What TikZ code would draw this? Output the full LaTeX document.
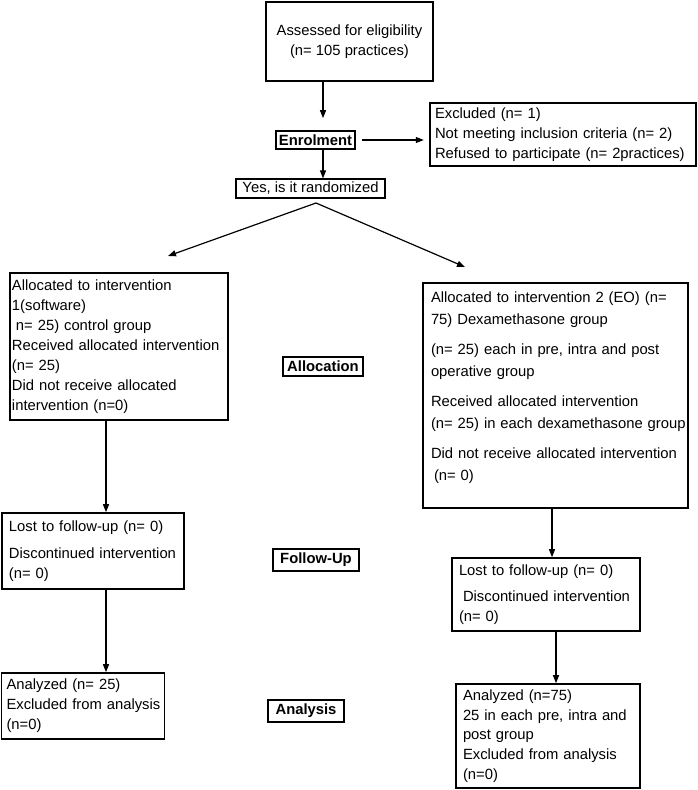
\documentclass[tikz,border=0pt]{standalone}
\usepackage{fontspec}
\setmainfont{Liberation Sans}
\usetikzlibrary{arrows.meta}
\begin{document}
\begin{tikzpicture}[x=1pt,y=-1pt,
  txt/.style={font=\fontsize{14.8}{20}\selectfont},
  box/.style={draw, line width=1.6pt, inner ysep=0pt, align=left, txt},
  lbl/.style={draw, line width=1.6pt, inner sep=0pt, font=\bfseries\fontsize{14.8}{17}\selectfont},
  arr/.style={line width=1.2pt, -{Triangle[length=8pt,width=6pt]}},
]
\useasboundingbox (0,0) rectangle (698,790);

\node[box, align=center, inner xsep=0, minimum width=167, minimum height=79] (assess) at (349.5,41.5) {Assessed for eligibility\\(n= 105 practices)};
\node[lbl, minimum width=79, minimum height=18] (enrol) at (315.5,140) {Enrolment};
\node[box, line width=2.4pt, text width=256, inner xsep=5, minimum width=266, minimum height=63] (excl) at (563,134.5) {Excluded (n= 1)\\Not meeting inclusion criteria (n= 2)\\\mbox{Refused to participate (n= 2practices)}};
\node[box, align=center, line width=1.3pt, inner xsep=0, minimum width=149, minimum height=19] (rand) at (310.5,188.5) {Yes, is it randomized};

\coordinate (split) at (316,203);
\coordinate (tipL) at (168,256);
\coordinate (tipR) at (465,267);

\node[box, text width=214, inner xsep=2, minimum width=218, minimum height=147] (alloc1) at (119,346.5) {Allocated to intervention\\1(software)\\\hspace*{4pt}n= 25) control group\\\mbox{Received allocated intervention}\\(n= 25)\\Did not receive allocated\\intervention (n=0)};
\node[lbl, minimum width=80, minimum height=19] (allocLbl) at (323,366.5) {Allocation};
\node[box, text width=249, inner xsep=8, minimum width=265, minimum height=225, font=\fontsize{14.8}{22}\selectfont] (alloc2) at (555.5,395.5) {\mbox{Allocated to intervention 2 (EO) (n=}\\75) Dexamethasone group\\[8pt]\mbox{(n= 25) each in pre, intra and post}\\operative group\\[8pt]Received allocated intervention\\\mbox{(n= 25) in each dexamethasone group}\\[8pt]\mbox{Did not receive allocated intervention}\\\hspace*{3pt}(n= 0)\\[-4pt]\mbox{}};

\node[box, text width=168, inner xsep=7, minimum width=182, minimum height=76] (lostL) at (93,551) {Lost to follow-up (n= 0)\\[7pt]Discontinued intervention\\(n= 0)};
\node[lbl, minimum width=86, minimum height=22] (fuLbl) at (316,560) {Follow-Up};
\node[box, text width=174, inner xsep=7, minimum width=188, minimum height=73] (lostR) at (546,594.5) {Lost to follow-up (n= 0)\\[6pt]\hspace*{4pt}Discontinued intervention\\(n= 0)};

\node[box, text width=153, inner xsep=5, minimum width=163, minimum height=66] (anaL) at (83,706) {Analyzed (n= 25)\\\mbox{Excluded from analysis}\\(n=0)};
\node[lbl, minimum width=76, minimum height=22] (anaLbl) at (306,711) {Analysis};
\node[box, text width=170, inner xsep=7, minimum width=184, minimum height=104, font=\fontsize{14.8}{19.7}\selectfont] (anaR) at (548,736) {Analyzed (n=75)\\\mbox{25 in each pre, intra and}\\post group\\\mbox{Excluded from analysis}\\(n=0)};

\draw[arr] ([xshift=-26.5pt]assess.south) -- ([xshift=-26.5pt,yshift=12pt]assess.south |- enrol.north);
\draw[arr, shorten <=6pt, shorten >=5pt] (enrol.east) -- (enrol.east -| excl.west);
\draw[arr] (enrol.south -| 323,0) -- (rand.north -| 323,0);
\draw[arr] (split) -- (tipL);
\draw[arr] (split) -- (tipR);
\draw[arr] ([xshift=-13pt]alloc1.south) -- ([xshift=-13pt]alloc1.south |- lostL.north);
\draw[arr] ([xshift=13pt]lostL.south) -- ([xshift=13pt]lostL.south |- anaL.north);
\draw[arr] ([xshift=-3.5pt]alloc2.south) -- ([xshift=-3.5pt]alloc2.south |- lostR.north);
\draw[arr] ([xshift=10pt]lostR.south) -- ([xshift=10pt]lostR.south |- anaR.north);
\end{tikzpicture}
\end{document}
